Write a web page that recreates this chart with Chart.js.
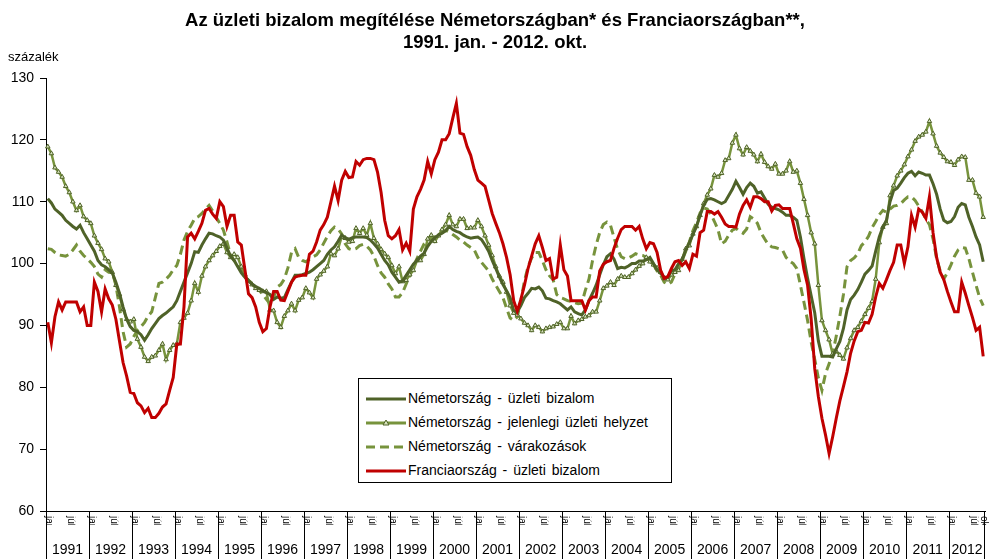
<!DOCTYPE html>
<html>
<head>
<meta charset="utf-8">
<script src="https://cdn.jsdelivr.net/npm/chart.js@4.4.0/dist/chart.umd.min.js"></script>
<style>
  body { margin: 0; background: #fff; }
  #keret { position: relative; width: 990px; height: 559px; font-family: "Liberation Sans", Arial, sans-serif; }
  #grafikon { position: absolute; left: 0; top: 0; }
  #cim { position: absolute; left: 0; top: 9px; width: 990px; text-align: center; font-weight: bold; font-size: 18.5px; line-height: 22px; color: #000; }
  #egyseg { position: absolute; left: 8px; top: 49px; font-size: 13px; color: #000; }
  #jelmagyarazat { position: absolute; left: 358px; top: 378px; width: 312px; height: 103px; border: 1px solid #000; background: #fff; }
  .sor { position: absolute; left: 7px; height: 24px; font-size: 14px; line-height: 24px; word-spacing: 2px; white-space: nowrap; }
  .sor svg { vertical-align: middle; margin-right: 2px; }
</style>
</head>
<body>
<div id="keret">
  <canvas id="grafikon" width="990" height="559"></canvas>
  <div id="cim">Az üzleti bizalom megítélése Németországban* és Franciaországban**,<br>1991. jan. - 2012. okt.</div>
  <div id="egyseg">százalék</div>
  <div id="jelmagyarazat">
    <div class="sor" style="top:7px"><svg width="40" height="8"><line x1="0" y1="4" x2="40" y2="4" stroke="#4F6228" stroke-width="3"/></svg>Németország - üzleti bizalom</div>
    <div class="sor" style="top:31px"><svg width="40" height="8"><line x1="0" y1="4" x2="40" y2="4" stroke="#77933C" stroke-width="3"/><polygon points="20,1 23,6 17,6" fill="#D7E4BD" stroke="#4F6228" stroke-width="1"/></svg>Németország - jelenlegi üzleti helyzet</div>
    <div class="sor" style="top:55px"><svg width="40" height="8"><line x1="0" y1="4" x2="40" y2="4" stroke="#77933C" stroke-width="3" stroke-dasharray="9,5"/></svg>Németország - várakozások</div>
    <div class="sor" style="top:79px"><svg width="40" height="8"><line x1="0" y1="4" x2="40" y2="4" stroke="#C00000" stroke-width="3"/></svg>Franciaország - üzleti bizalom</div>
  </div>
</div>
<script>
// evek es honapok (kategoriak)
var evek = ['1991','1992','1993','1994','1995','1996','1997','1998','1999','2000','2001',
            '2002','2003','2004','2005','2006','2007','2008','2009','2010','2011','2012'];
var honapNevek = ['jan.','febr.','márc.','ápr.','máj.','jún.','júl.','aug.','szept.','okt.','nov.','dec.'];
var honapDb = 262; // 1991. jan. - 2012. okt.

var yTickek = [60, 70, 80, 90, 100, 110, 120, 130];

// Nemetorszag - uzleti bizalom
var nemetBizalom = [
  110.5, 109.8, 108.8, 108.3, 107.8, 107.0, 106.5, 106.0, 105.6, 106.2, 105.0, 104.0,
  103.0, 102.0, 100.5, 99.8, 99.5, 99.0, 98.5, 97.0, 95.2, 93.0, 91.0, 89.8,
  89.2, 89.0, 88.5, 87.6, 88.5, 89.5, 90.3, 91.1, 91.6, 92.0, 92.5, 93.0,
  94.0, 95.5, 97.0, 98.5, 100.0, 101.9, 101.8, 103.0, 104.0, 104.9, 104.8, 104.5,
  104.3, 103.8, 102.5, 101.2, 100.5, 99.5, 98.5, 97.8, 97.2, 96.7, 96.3, 96.0,
  95.6, 95.3, 95.0, 94.2, 94.6, 94.4, 94.5, 95.8, 97.0, 98.1, 98.1, 98.2,
  98.4, 98.6, 99.0, 99.5, 100.0, 100.5, 101.5, 102.2, 102.7, 103.6, 104.6, 104.2,
  103.9, 104.2, 104.3, 104.3, 104.3, 104.2, 103.8, 103.2, 102.5, 101.5, 100.5, 99.8,
  98.6, 97.8, 97.0, 97.2, 98.1, 99.0, 99.9, 100.5, 101.2, 101.7, 102.8, 103.6,
  104.2, 104.6, 104.9, 105.3, 106.0, 105.5, 105.2, 105.0, 104.6, 104.3, 104.1, 104.2,
  104.3, 103.9, 103.0, 102.0, 100.5, 99.2, 97.8, 96.6, 95.6, 94.5, 92.4, 92.2,
  93.2, 94.5, 95.2, 96.0, 95.9, 96.2, 95.6, 94.4, 94.3, 94.0, 93.8, 93.5,
  93.0, 92.5, 93.0, 92.2, 91.9, 91.7, 92.5, 94.0, 95.2, 96.5, 98.2, 99.8,
  101.1, 101.6, 100.7, 99.2, 99.4, 99.3, 99.6, 100.0, 100.0, 100.4, 100.4, 100.6,
  101.0, 100.0, 99.0, 98.4, 97.8, 97.8, 98.8, 99.0, 100.0, 100.6, 102.2, 103.4,
  104.7, 106.0, 107.8, 109.4, 110.4, 110.5, 110.3, 110.0, 109.7, 110.0, 111.0, 112.0,
  113.3, 112.3, 111.2, 112.3, 113.0, 112.5, 111.4, 111.6, 110.6, 109.6, 109.1, 108.9,
  108.7, 108.3, 107.8, 107.8, 107.5, 107.0, 104.3, 100.8, 97.6, 94.8, 92.0, 87.5,
  85.0, 85.0, 85.0, 84.9, 86.2, 87.4, 89.5, 92.5, 94.2, 94.9, 95.8, 97.0,
  98.3, 98.9, 99.6, 102.0, 104.3, 105.9, 107.0, 110.0, 111.8, 112.2, 113.0, 113.9,
  114.6, 114.9, 114.2, 114.8, 114.6, 114.3, 114.3, 112.9, 111.2, 108.8, 107.0, 106.6,
  106.8, 107.6, 109.1, 109.7, 109.5, 107.5, 106.0, 104.3, 103.0, 100.3
];

// Nemetorszag - jelenlegi uzleti helyzet
var nemetHelyzet = [
  118.9, 117.8, 115.5, 114.8, 114.0, 112.5, 111.5, 110.0, 108.6, 109.4, 107.6, 107.0,
  106.5, 104.5, 103.3, 102.3, 100.8, 100.3, 98.6, 96.5, 95.0, 92.6, 91.0, 90.6,
  91.0, 87.8, 86.5, 84.9, 84.2, 84.9, 85.1, 86.0, 87.0, 84.5, 86.0, 86.8,
  87.0, 90.5, 91.2, 92.0, 94.0, 96.8, 95.4, 98.0, 99.5, 100.5, 101.3, 102.0,
  102.8, 103.2, 101.8, 101.0, 101.5, 101.0, 99.5, 98.2, 97.2, 96.6, 96.0, 95.7,
  95.5, 95.5, 92.5, 92.4, 90.5, 89.7, 91.5, 92.4, 93.5, 92.4, 94.1, 94.5,
  96.0, 95.3, 94.5, 97.5, 98.2, 98.8, 99.5, 101.6, 101.3, 102.4, 104.3, 104.1,
  103.5, 103.6, 105.7, 104.9, 105.7, 104.6, 106.5, 104.1, 103.2, 102.3, 101.6, 101.0,
  99.7, 98.4, 99.5, 97.1, 97.3, 98.2, 98.9, 100.5, 100.5, 101.5, 104.0, 104.6,
  103.6, 104.5, 105.5, 106.3, 107.8, 106.3, 106.0, 107.2, 107.2, 105.7, 105.8, 105.8,
  107.0, 106.0, 104.5, 103.0, 101.3, 99.5, 98.0, 97.0, 95.4, 93.2, 92.0, 91.7,
  91.1, 90.4, 90.0, 89.2, 90.0, 89.7, 89.0, 89.5, 89.7, 89.8, 90.2, 90.5,
  89.5, 89.5, 91.5, 90.3, 90.8, 91.0, 91.4, 91.6, 92.2, 92.2, 94.0, 96.0,
  96.4, 97.0, 96.5, 97.5, 98.0, 97.8, 97.8, 98.4, 99.0, 99.6, 100.0, 101.0,
  100.3, 99.8, 99.3, 98.6, 97.6, 97.4, 98.2, 98.6, 98.9, 100.7, 102.4, 102.9,
  104.8, 106.0, 107.8, 109.7, 111.1, 112.1, 114.3, 114.0, 114.6, 116.7, 117.0, 119.5,
  120.8, 118.6, 117.6, 118.8, 118.2, 117.6, 116.5, 117.7, 116.4, 115.7, 115.3, 116.1,
  114.5, 114.5, 115.0, 116.5, 114.8, 115.0, 113.0, 110.4, 107.8, 105.0, 103.2, 96.5,
  90.8, 89.2, 87.7, 85.4, 85.8, 85.2, 84.6, 86.4, 87.9, 89.2, 89.7, 90.7,
  91.8, 92.8, 93.9, 97.5, 103.4, 105.9, 106.5, 111.0, 112.6, 114.2, 115.0, 116.0,
  117.3, 118.4, 119.8, 120.5, 120.8, 121.3, 123.0, 121.0, 119.0, 117.9, 117.2, 116.5,
  116.4, 115.9, 116.8, 117.3, 117.2, 113.5, 113.5, 111.4, 110.8, 107.5
];

// Nemetorszag - varakozasok
var nemetVarakozas = [
  102.4, 102.3, 101.8, 101.4, 101.3, 101.2, 101.5, 102.2, 103.0, 102.0, 101.3, 100.8,
  100.2, 99.5, 98.3, 97.8, 99.0, 98.6, 98.6, 96.5, 93.0, 89.0, 86.5, 87.0,
  88.2, 89.2, 89.8, 90.5, 91.5, 92.2, 94.5, 96.8, 97.0, 97.5, 98.1, 99.0,
  99.7, 101.5, 103.8, 105.2, 106.2, 107.3, 107.6, 108.1, 108.8, 109.4, 108.5, 107.5,
  106.5, 105.4, 103.5, 101.4, 100.5, 100.0, 98.8, 97.8, 97.3, 96.8, 96.3, 95.7,
  95.0, 94.2, 93.5, 94.5, 96.2, 96.6, 97.5, 99.3, 101.8, 102.4, 101.0, 100.5,
  100.3, 100.7, 101.1, 101.4, 102.2, 103.3, 104.4, 105.3, 105.9, 105.6, 104.8, 103.2,
  102.4, 102.2, 102.4, 102.9, 103.1, 102.8, 102.2, 101.2, 99.7, 98.5, 97.8, 96.7,
  95.9, 94.6, 94.6, 95.3, 96.7, 98.1, 99.5, 100.8, 102.0, 103.2, 103.8, 104.1,
  104.3, 104.7, 105.0, 105.4, 105.1, 104.7, 104.3, 103.8, 103.5, 103.0, 102.6, 102.2,
  101.0, 100.2, 99.5, 98.8, 97.5, 96.5, 95.5, 94.5, 92.8, 91.2, 90.8, 91.4,
  94.0, 97.2, 99.5, 100.9, 101.8, 101.8, 100.5, 99.0, 98.0, 97.4, 95.0, 94.5,
  94.3, 94.0, 93.9, 93.7, 93.5, 93.6, 95.7, 97.5, 100.5, 103.0, 105.0, 106.3,
  106.7, 106.2, 104.2, 102.3, 101.1, 100.8, 100.9, 101.2, 101.6, 101.4, 101.3, 101.0,
  100.5, 99.8, 98.8, 98.1, 97.0, 96.6, 97.0, 98.3, 99.4, 100.5, 102.0, 103.5,
  105.3, 106.6, 108.2, 109.0, 108.8, 108.0, 106.8, 105.5, 103.2, 103.6, 104.6, 105.4,
  105.7, 105.2, 104.9, 105.6, 107.6, 107.2, 106.5, 105.0, 104.0, 103.1, 102.7, 102.6,
  102.4, 102.2, 101.0, 100.4, 100.0, 99.2, 96.5, 93.7, 90.8, 87.3, 84.5, 81.5,
  79.5, 82.2, 83.8, 85.4, 88.3, 91.5, 95.0, 99.5, 100.5, 100.9, 101.6, 102.9,
  103.5, 104.4, 105.8, 106.8, 107.9, 108.6, 108.3, 108.8, 109.3, 109.4, 109.7, 110.3,
  110.8, 110.8, 110.2, 109.3, 108.4, 107.2, 106.3, 104.0, 100.8, 98.8, 97.5, 98.5,
  99.8, 101.2, 102.2, 102.6, 102.5, 100.8, 98.6, 96.5, 94.5, 93.2
];

// Franciaorszag - uzleti bizalom
var franciaBizalom = [
  90.5, 87.2, 91.4, 93.8, 92.5, 93.8, 93.8, 93.8, 93.8, 92.2, 93.0, 90.0,
  90.0, 97.0, 95.5, 92.2, 95.9, 94.3, 93.3, 91.0, 87.5, 84.0, 81.8, 79.2,
  79.0, 77.5, 77.0, 75.9, 76.6, 75.1, 75.1, 75.8, 76.8, 77.3, 79.5, 81.6,
  87.0, 87.0, 93.0, 104.3, 104.9, 104.0, 105.2, 106.5, 108.6, 108.9, 108.0, 107.3,
  110.0, 109.2, 106.0, 107.8, 107.8, 103.5, 103.0, 99.0, 95.1, 94.5, 93.0, 90.5,
  89.0, 89.5, 93.0, 95.5, 95.5, 94.1, 94.0, 95.5, 97.0, 97.8, 98.0, 98.1,
  98.1, 101.5, 102.0, 103.5, 105.4, 106.3, 107.5, 110.0, 112.5, 110.2, 113.5, 114.9,
  113.9, 114.0, 116.5, 115.9, 116.8, 117.0, 117.0, 116.8, 114.8, 111.5, 107.0, 104.5,
  104.0, 104.5, 105.5, 102.2, 103.3, 102.0, 108.8, 110.8, 112.0, 113.5, 116.5, 114.5,
  116.8, 118.0, 120.0, 120.0, 121.0, 123.5, 125.9, 121.1, 120.9, 118.9, 117.5, 115.2,
  113.5, 113.0, 112.5, 110.3, 108.1, 106.5, 105.0, 103.2, 101.0, 98.2, 94.0, 92.3,
  94.2, 96.5, 99.2, 101.2, 103.2, 104.5, 102.6, 100.5, 100.8, 97.5, 97.8, 103.0,
  99.0, 98.0, 94.0, 94.0, 94.0, 94.0, 92.5, 94.0, 94.6, 94.6, 98.8, 99.9,
  100.3, 100.5, 102.5, 104.1, 105.5, 106.0, 106.0, 106.0, 105.4, 106.0, 104.0, 102.4,
  103.4, 103.2, 101.8, 98.9, 97.6, 97.9, 99.2, 100.3, 100.5, 99.7, 100.3, 99.2,
  101.5, 101.2, 105.0, 105.4, 108.4, 108.4, 108.0, 108.4, 107.5, 106.4, 106.0, 106.0,
  105.9, 108.0, 109.4, 110.3, 109.1, 110.8, 110.8, 110.5, 110.0, 110.0, 108.5, 109.4,
  109.5, 108.9, 108.9, 108.9, 106.5, 104.0, 102.5, 99.0, 96.5, 91.0, 83.0, 78.5,
  75.0, 72.3, 69.3, 72.0, 75.0, 77.8, 80.1, 82.5, 85.5, 87.5, 89.0, 89.2,
  90.5, 90.4, 91.8, 94.6, 96.8, 96.0, 97.4, 98.9, 100.2, 103.0, 103.0, 100.0,
  102.7, 107.8, 105.9, 108.8, 108.3, 107.3, 110.8, 105.0, 101.0, 98.6, 97.4, 95.5,
  93.8, 92.2, 92.2, 97.0, 95.2, 93.2, 91.3, 89.2, 89.7, 85.0
];

// kategoriak: "1991 jan." ...
var kategoriak = [];
for (var i = 0; i < honapDb; i++) {
  kategoriak.push(evek[Math.floor(i / 12)] + ' ' + honapNevek[i % 12]);
}

// honap feliratok az x tengely alatt, evhatarok
var tengelyPlugin = {
  id: 'tengelyPlugin',
  afterDraw: function(chart) {
    var ctx = chart.ctx;
    var xs = chart.scales.x;
    var alja = chart.chartArea.bottom;
    var fel = (xs.getPixelForValue(1) - xs.getPixelForValue(0)) / 2;

    ctx.save();
    ctx.strokeStyle = '#000';
    ctx.lineWidth = 1;
    ctx.beginPath();
    for (var i = 0; i <= honapDb; i += 12) {
      var px = Math.round(xs.getPixelForValue(i) - fel) + 0.5;
      ctx.moveTo(px, alja);
      ctx.lineTo(px, 559);
    }
    var utolso = Math.round(xs.getPixelForValue(honapDb - 1) + fel) - 0.5;
    ctx.moveTo(utolso, alja);
    ctx.lineTo(utolso, 559);
    ctx.stroke();

    // elforgatott honap feliratok, csak a tetejuk latszik
    ctx.fillStyle = '#000';
    ctx.font = '10px "Liberation Sans", Arial, sans-serif';
    ctx.textBaseline = 'middle';
    ctx.textAlign = 'left';
    for (var j = 0; j < honapDb; j++) {
      var h = j % 12;
      if (h !== 0 && h !== 6 && j !== honapDb - 1) continue;
      var x = xs.getPixelForValue(j);
      ctx.save();
      ctx.beginPath();
      ctx.rect(x - 5, alja + 3, 11, 11);
      ctx.clip();
      ctx.translate(x + 1, alja + 5);
      ctx.rotate(Math.PI / 2);
      ctx.fillText(honapNevek[h], 0, 0);
      ctx.restore();
    }
    ctx.restore();
  }
};

var ctx = document.getElementById('grafikon').getContext('2d');
var myChart = new Chart(ctx, {
  type: 'line',
  data: {
    labels: kategoriak,
    datasets: [
      {
        label: 'Németország - üzleti bizalom',
        data: nemetBizalom,
        borderColor: '#4F6228',
        borderWidth: 3,
        pointRadius: 0,
        tension: 0,
        order: 2
      },
      {
        label: 'Németország - jelenlegi üzleti helyzet',
        data: nemetHelyzet,
        borderColor: '#77933C',
        borderWidth: 2.5,
        pointStyle: 'triangle',
        pointRadius: 2.6,
        pointBackgroundColor: '#D7E4BD',
        pointBorderColor: '#4F6228',
        pointBorderWidth: 1,
        tension: 0,
        order: 3
      },
      {
        label: 'Németország - várakozások',
        data: nemetVarakozas,
        borderColor: '#77933C',
        borderWidth: 3,
        borderDash: [9, 5],
        pointRadius: 0,
        tension: 0,
        order: 4
      },
      {
        label: 'Franciaország - üzleti bizalom',
        data: franciaBizalom,
        borderColor: '#C00000',
        borderWidth: 3,
        pointRadius: 0,
        tension: 0,
        order: 1
      }
    ]
  },
  options: {
    responsive: false,
    animation: false,
    devicePixelRatio: 1,
    layout: { padding: { left: 0, right: 5, top: 78, bottom: 0 } },
    plugins: {
      legend: { display: false },
      title: { display: false },
      tooltip: { enabled: false }
    },
    scales: {
      x: {
        offset: true,
        afterFit: function(scale) {
          scale.height = 48;
          scale.paddingLeft = 0;
          scale.paddingRight = 0;
        },
        grid: { display: true, drawOnChartArea: false, drawTicks: true, tickLength: 0, color: 'rgba(0,0,0,0)' },
        border: { display: true, color: '#000', width: 1 },
        ticks: {
          autoSkip: false,
          maxRotation: 0,
          minRotation: 0,
          padding: 31,
          labelOffset: -1.79,
          color: '#000',
          font: { family: '"Liberation Sans", Arial, sans-serif', size: 14 },
          callback: function(value, index) {
            if (index === 257) return evek[21];
            if (index % 12 === 6 && index < 252) return evek[Math.floor(index / 12)];
            return '';
          }
        }
      },
      y: {
        min: 60,
        max: 130,
        afterFit: function(scale) { scale.width = 46; },
        afterBuildTicks: function(scale) {
          scale.ticks = yTickek.map(function(v) { return { value: v }; });
        },
        grid: { display: true, drawOnChartArea: false, drawTicks: true, tickLength: 6, color: '#000' },
        border: { display: true, color: '#000', width: 1 },
        ticks: {
          padding: 6,
          color: '#000',
          font: { family: '"Liberation Sans", Arial, sans-serif', size: 14 }
        }
      }
    }
  },
  plugins: [tengelyPlugin]
});
</script>
</body>
</html>
